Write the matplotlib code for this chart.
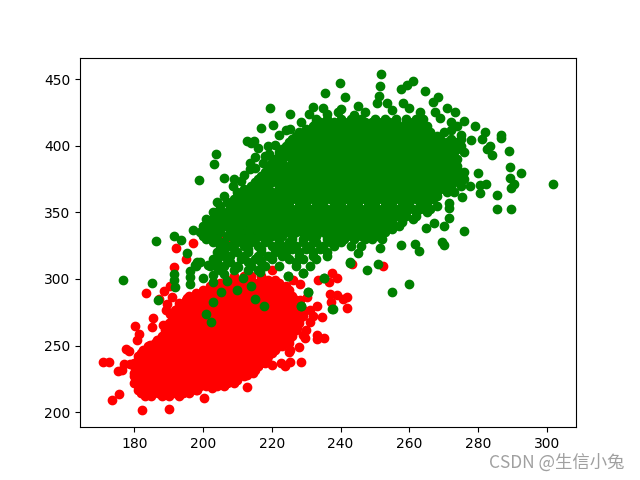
import matplotlib
matplotlib.use("Agg")
import matplotlib.pyplot as plt

# red class: dense core, read row by row (y level -> x values)
red_core_y = [212, 217, 222, 227, 232, 237, 242, 247, 252, 257, 262, 267, 272, 277, 282, 287, 292, 297, 302]
red_core_x = [
    [183, 185, 188, 190, 193],
    [181, 183, 186, 188, 191, 193, 196, 198],
    [180, 182, 185, 187, 190, 192, 195, 197, 200, 202, 205, 207, 209],
    [180, 183, 185, 188, 190, 193, 195, 198, 200, 203, 205, 208, 210, 212],
    [181, 183, 186, 188, 191, 193, 196, 198, 201, 203, 206, 208, 211, 213, 215],
    [180, 182, 185, 187, 190, 192, 195, 197, 200, 202, 205, 207, 210, 212, 215, 217, 218],
    [181, 184, 186, 189, 191, 194, 196, 199, 201, 204, 206, 209, 211, 214, 216, 219],
    [183, 185, 188, 190, 193, 195, 198, 200, 203, 205, 208, 210, 213, 215, 218, 220, 221],
    [186, 189, 191, 194, 196, 199, 201, 204, 206, 209, 211, 214, 216, 219, 221, 224, 225],
    [188, 190, 193, 195, 198, 200, 203, 205, 208, 210, 213, 215, 218, 220, 223, 225, 226],
    [189, 191, 194, 196, 199, 201, 204, 206, 209, 211, 214, 216, 219, 221, 224, 226, 227],
    [190, 192, 195, 197, 200, 202, 205, 207, 210, 212, 215, 217, 220, 222, 225, 227, 228],
    [191, 193, 196, 198, 201, 203, 206, 208, 211, 213, 216, 218, 221, 223, 226, 228, 229],
    [192, 194, 197, 199, 202, 204, 207, 209, 212, 214, 217, 219, 222, 224, 227, 229],
    [193, 195, 198, 200, 203, 205, 208, 210, 213, 215, 218, 220, 223, 225, 228],
    [196, 199, 201, 204, 206, 209, 211, 214, 216, 219, 221, 224, 226],
    [200, 202, 205, 207, 210, 212, 215, 217, 220, 222, 225],
    [205, 208, 210, 213, 215, 218, 220, 222],
    [209, 212, 214, 217],
]
red_fill_y = [214.5, 219.5, 224.5, 229.5, 234.5, 239.5, 244.5, 249.5, 254.5, 259.5, 264.5, 269.5, 274.5, 279.5, 284.5, 289.5, 294.5, 299.5]
red_fill_x = [
    [182, 184, 187, 189, 192, 194, 196],
    [181, 184, 186, 189, 191, 194, 196, 199, 201, 204, 206],
    [181, 184, 186, 189, 191, 194, 196, 199, 201, 204, 206, 209, 210],
    [180, 182, 184, 187, 189, 192, 194, 197, 199, 202, 204, 207, 209, 212, 213],
    [180, 182, 184, 187, 189, 192, 194, 197, 199, 202, 204, 207, 209, 212, 214, 216],
    [181, 183, 185, 188, 190, 193, 195, 198, 200, 203, 205, 208, 210, 213, 215, 218],
    [182, 183, 185, 187, 188, 190, 192, 195, 197, 200, 202, 205, 207, 210, 212, 215, 217, 220],
    [184, 187, 189, 192, 194, 197, 199, 202, 204, 207, 209, 212, 214, 217, 219, 222, 223],
    [187, 190, 192, 195, 197, 200, 202, 205, 207, 210, 212, 215, 217, 220, 222, 225],
    [189, 192, 194, 197, 199, 202, 204, 207, 209, 212, 214, 217, 219, 222, 224, 226],
    [190, 193, 195, 198, 200, 203, 205, 208, 210, 213, 215, 218, 220, 223, 225, 227],
    [191, 194, 196, 199, 201, 204, 206, 209, 211, 214, 216, 219, 221, 224, 226, 228],
    [192, 195, 197, 200, 202, 205, 207, 210, 212, 215, 217, 220, 222, 225, 227, 229],
    [193, 196, 198, 201, 203, 206, 208, 211, 213, 216, 218, 221, 223, 226, 228],
    [195, 197, 200, 202, 205, 207, 210, 212, 215, 217, 220, 222, 225, 227],
    [198, 200, 203, 205, 208, 210, 213, 215, 218, 220, 223, 225],
    [202, 204, 207, 209, 212, 214, 217, 219, 222, 224],
    [207, 209, 212, 214, 217, 219, 221],
]
# red class: separately visible points
red_x = [170.8, 172.8, 173.5, 175.5, 175.2, 176.6, 176.9, 178.8, 177.6, 178.6, 180.1, 181.3, 180.8,
         182.4, 190.0, 183.4, 185.5, 185.1, 187.1, 188.7, 190.5, 192.1, 197.2, 191.5, 195.1, 191.0,
         189.5, 189.3, 212.8, 200.2, 202.6, 220.2, 237.5, 238.9, 233.3, 236.5, 237.0, 239.1, 241.8,
         240.8, 237.2, 241.8, 233.1, 234.6, 231.2, 229.7, 233.1, 233.1, 235.3, 228.0, 224.9, 225.4,
         228.5, 225.4, 222.7, 223.9, 220.2, 216.1, 214.5, 212.8, 228.3, 230.2, 228.3, 226.3,
         243.4, 252.3, 204.5, 207.5, 212.0, 215.5,
         182.7, 184.6, 186.6, 188.5, 190.5, 193.4, 195.3, 194.3, 198.2, 206.9, 209.8, 218.6, 221.5,
         224.4, 227.3, 231.0, 232.0, 230.0, 229.0]
red_y = [237.6, 237.4, 209.0, 214.0, 230.6, 231.6, 236.0, 236.0, 247.6, 246.0, 264.6, 259.0, 254.0,
         201.4, 202.8, 289.6, 270.6, 263.8, 285.0, 291.0, 295.0, 323.6, 327.0, 309.0, 315.0, 286.6,
         281.6, 276.6, 219.0, 211.0, 218.0, 307.0, 304.6, 300.8, 299.6, 297.8, 289.0, 288.0, 286.6,
         284.8, 282.4, 278.4, 279.6, 271.6, 276.6, 255.4, 257.9, 254.6, 255.8, 249.0, 245.3, 247.0,
         238.0, 237.4, 237.1, 234.6, 235.8, 234.6, 229.1, 227.9, 284.0, 286.6, 296.6, 299.1,
         311.5, 310.0, 331.0, 326.0, 337.0, 335.0,
         246.6, 250.3, 254.0, 265.4, 274.0, 280.4, 285.4, 214.8, 216.6, 221.6, 226.6, 240.3, 250.3,
         256.6, 262.9, 268.0, 272.0, 262.0, 258.0]

# green class: dense core, read row by row
green_core_y = [420, 415, 410, 405, 400, 395, 390, 385, 380, 375, 370, 365, 360, 355, 350, 345, 340, 335, 330, 325, 320, 315, 310]
green_core_x = [
    [233, 236, 240, 243, 246, 250, 253, 256, 259, 262, 264],
    [232, 235, 237, 240, 242, 245, 247, 250, 252, 255, 257, 260, 262, 265],
    [228, 231, 233, 236, 238, 241, 243, 246, 248, 251, 253, 256, 258, 261, 263, 266, 270],
    [226, 229, 231, 234, 236, 239, 241, 244, 246, 249, 251, 254, 256, 259, 261, 264, 266, 269, 272, 275],
    [224, 227, 230, 232, 235, 237, 240, 242, 245, 247, 250, 252, 255, 257, 260, 262, 265, 267, 270, 272, 275],
    [222, 225, 228, 230, 233, 235, 238, 240, 243, 245, 248, 250, 253, 255, 258, 260, 263, 265, 268, 270, 273, 276],
    [221, 223, 226, 229, 231, 234, 236, 239, 241, 244, 246, 249, 251, 254, 256, 259, 261, 264, 266, 269, 271, 274],
    [220, 222, 225, 227, 230, 232, 235, 237, 240, 242, 245, 247, 250, 252, 255, 257, 260, 262, 265, 267, 270, 272, 274],
    [218, 220, 223, 226, 228, 231, 233, 236, 238, 241, 243, 246, 248, 251, 253, 256, 258, 261, 263, 266, 268, 271, 273, 276],
    [216, 218, 221, 224, 226, 229, 231, 234, 236, 239, 241, 244, 246, 249, 251, 254, 256, 259, 261, 264, 266, 269, 271, 274, 276],
    [214, 217, 219, 222, 225, 227, 230, 232, 235, 237, 240, 242, 245, 247, 250, 252, 255, 257, 260, 262, 265, 267, 270, 272, 275],
    [210, 213, 215, 218, 220, 223, 226, 228, 231, 233, 236, 238, 241, 243, 246, 248, 251, 253, 256, 258, 261, 263, 266, 268, 271, 273],
    [209, 211, 214, 216, 219, 221, 224, 227, 229, 232, 234, 237, 239, 242, 244, 247, 249, 252, 254, 257, 259, 262, 264, 267],
    [205, 208, 210, 213, 215, 218, 220, 223, 225, 228, 230, 233, 235, 238, 240, 243, 245, 248, 250, 253, 255, 258, 260, 263, 265, 268],
    [204, 207, 209, 212, 214, 217, 219, 222, 224, 227, 229, 232, 234, 237, 239, 242, 244, 247, 249, 252, 254, 257, 259, 262, 265],
    [203, 205, 208, 210, 213, 215, 218, 220, 223, 225, 228, 230, 233, 235, 238, 240, 243, 245, 248, 250, 253, 255, 258, 261],
    [201, 204, 206, 209, 211, 214, 216, 219, 221, 224, 226, 229, 231, 234, 236, 239, 241, 244, 246, 249, 251, 254, 257],
    [199, 202, 205, 208, 211, 213, 216, 218, 221, 224, 227, 229, 232, 235, 237, 240, 242, 245, 247, 250, 253],
    [201, 204, 209, 212, 215, 219, 222, 226, 229, 232, 236, 239, 241, 244, 247, 249, 252],
    [205, 208, 212, 216, 220, 224, 227, 231, 235, 238, 243, 246],
    [204, 206, 210, 213, 217, 221, 224, 228, 232, 236],
    [203, 207, 211, 215, 220, 225, 229, 233],
    [198, 202, 206, 210, 214, 218, 222, 227, 231],
]
green_fill_y = [417.5, 412.5, 407.5, 402.5, 397.5, 392.5, 387.5, 382.5, 377.5, 372.5, 367.5, 362.5, 357.5, 352.5, 347.5, 342.5, 337.5, 332.5,
                327.5, 322.5, 317.5, 312.5, 307.0]
green_fill_x = [
    [234, 238, 241, 244, 247, 249, 251, 254, 256, 259, 261, 263],
    [230, 232, 234, 237, 239, 242, 244, 247, 249, 252, 254, 257, 259, 262, 264],
    [227, 230, 232, 235, 237, 240, 242, 245, 247, 250, 252, 255, 257, 260, 262, 265, 268],
    [225, 228, 231, 233, 236, 238, 241, 243, 246, 248, 251, 253, 256, 258, 261, 263, 266, 268, 271, 274],
    [223, 226, 229, 231, 234, 236, 239, 241, 244, 246, 249, 251, 254, 256, 259, 261, 264, 266, 269, 271, 274],
    [222, 224, 227, 229, 232, 234, 237, 239, 242, 244, 247, 249, 252, 254, 257, 259, 262, 264, 267, 269, 272],
    [220, 223, 226, 228, 231, 233, 236, 238, 241, 243, 246, 248, 251, 253, 256, 258, 261, 263, 266, 268, 271, 273],
    [219, 221, 224, 227, 229, 232, 234, 237, 239, 242, 244, 247, 249, 252, 254, 257, 259, 262, 264, 267, 269, 272, 274],
    [217, 219, 222, 225, 227, 230, 232, 235, 237, 240, 242, 245, 247, 250, 252, 255, 257, 260, 262, 265, 267, 270, 272, 275],
    [215, 218, 220, 223, 226, 228, 231, 233, 236, 238, 241, 243, 246, 248, 251, 253, 256, 258, 261, 263, 266, 268, 271, 273],
    [212, 214, 216, 219, 222, 224, 227, 229, 232, 234, 237, 239, 242, 244, 247, 249, 252, 254, 257, 259, 262, 264, 267, 269, 272],
    [210, 212, 215, 217, 220, 222, 225, 228, 230, 233, 235, 238, 240, 243, 245, 248, 250, 253, 255, 258, 260, 263, 265, 268],
    [207, 210, 212, 215, 217, 220, 222, 225, 228, 230, 233, 235, 238, 240, 243, 245, 248, 250, 253, 255, 258, 260, 263, 265],
    [205, 208, 211, 213, 216, 218, 221, 223, 226, 228, 231, 233, 236, 238, 241, 243, 246, 248, 251, 253, 256, 258, 261, 263, 266],
    [204, 206, 209, 211, 214, 216, 219, 221, 224, 226, 229, 231, 234, 236, 239, 241, 244, 246, 249, 251, 254, 256, 259, 262],
    [202, 204, 207, 209, 212, 214, 217, 219, 222, 224, 227, 229, 232, 234, 237, 239, 242, 244, 247, 249, 252, 255, 258],
    [200, 203, 205, 208, 210, 213, 215, 218, 220, 223, 225, 228, 230, 233, 235, 238, 240, 243, 245, 248, 250, 252, 255],
    [200, 203, 207, 210, 214, 217, 220, 223, 226, 230, 233, 236, 238, 241, 243, 246, 249, 251],
    [203, 206, 210, 214, 218, 222, 225, 229, 233, 237, 240],
    [206, 209, 213, 217, 222, 226, 230, 234],
    [205, 208, 212, 216, 219, 223, 228, 232, 236],
    [199, 204, 208, 213, 217, 227],
    [205, 209, 213, 216],
]
# green class: separately visible points
green_x = [251.8, 251.5, 261.2, 259.3, 257.5, 239.7, 235.5, 241.4, 251.2, 264.6, 268.2, 267.0, 219.5,
           245.2, 250.6, 253.5, 232.0, 235.0, 225.3, 230.8, 236.2, 240.2, 239.4, 258.3, 270.9, 273.3,
           267.5, 275.8, 228.5, 220.4, 216.9, 225.2, 232.6, 279.1, 282.0, 281.1, 286.7, 286.7, 212.8,
           214.0, 214.7, 220.8, 283.5, 282.7, 284.1, 289.0, 219.1, 203.8, 203.2, 215.2, 213.7, 217.4,
           213.7, 289.3, 292.5, 280.1, 289.3, 290.3, 289.6, 282.2, 280.4, 280.4, 301.9, 285.4, 285.4,
           289.7, 206.0, 198.7, 208.7, 211.0, 275.3, 277.7, 275.8, 271.4, 271.4, 271.4, 270.2, 267.3,
           264.7, 269.5, 270.2, 261.7, 262.8, 257.5, 251.5, 245.2, 242.8, 251.0, 247.6, 259.8, 254.9,
           235.2, 230.4, 229.2, 224.7, 228.6, 237.7,
           176.7, 185.3, 186.8, 186.2, 191.7, 193.6, 195.3, 191.7, 191.7, 191.9, 196.1, 196.1, 196.3,
           198.4, 197.7, 200.0, 202.9, 205.2, 203.0, 201.0, 202.2, 207.1, 209.8, 211.5, 214.0, 215.0,
           217.8, 224.6, 229.2, 230.4, 228.5, 235.3, 237.6, 242.8, 216.6, 216.6, 203.1, 201.6, 204.0,
           203.0, 206.0, 210.3,
           263.0, 260.0, 255.0, 247.0, 244.0, 269.0, 272.0, 274.0, 272.0, 275.0, 278.0,
           222.0, 224.0, 219.0, 216.0, 218.0, 215.0, 212.0, 209.0, 206.0, 204.0, 201.0, 203.0, 200.0, 197.0]
green_y = [453.5, 445.0, 448.5, 445.5, 442.3, 447.3, 439.3, 436.8, 437.3, 441.0, 436.3, 433.0, 428.5,
           429.8, 431.8, 432.3, 428.8, 428.5, 424.0, 423.8, 423.8, 427.3, 425.0, 431.8, 428.0, 425.5,
           425.5, 418.8, 417.5, 415.8, 413.5, 412.5, 416.0, 414.5, 410.0, 405.0, 408.3, 405.5, 403.5,
           401.8, 403.8, 400.3, 399.8, 397.3, 393.3, 396.0, 393.5, 393.5, 386.3, 391.3, 386.8, 387.3,
           382.3, 383.8, 379.5, 379.8, 375.5, 371.3, 368.3, 371.3, 370.5, 364.3, 371.5, 362.8, 352.5,
           352.5, 375.8, 374.3, 370.0, 373.3, 361.8, 370.0, 336.3, 345.5, 356.8, 353.0, 340.0, 341.8,
           338.5, 327.5, 325.3, 326.0, 320.8, 325.5, 323.5, 319.8, 312.5, 311.0, 306.8, 296.0, 290.3,
           301.0, 290.5, 304.3, 302.5, 280.0, 277.3,
           299.4, 296.9, 283.9, 328.4, 332.4, 329.6, 319.6, 304.0, 299.0, 294.0, 306.0, 301.6, 296.6,
           312.9, 310.4, 300.6, 297.9, 290.1, 282.6, 274.1, 267.4, 298.4, 292.1, 301.1, 294.4, 284.9,
           280.1, 302.4, 304.4, 290.1, 280.1, 300.8, 277.4, 312.1, 305.4, 314.0, 314.0, 310.4, 309.0,
           302.8, 304.0, 309.0,
           425.0, 428.0, 427.0, 425.0, 423.0, 421.0, 418.0, 415.0, 412.0, 408.0, 404.0,
           408.0, 412.0, 400.0, 398.0, 392.0, 383.0, 378.0, 375.0, 362.0, 358.0, 345.0, 350.0, 340.0, 337.0]


def flatten(rows_y, rows_x):
    xs, ys = [], []
    for level, row in zip(rows_y, rows_x):
        xs.extend(row)
        ys.extend([level] * len(row))
    return xs, ys


rx, ry = flatten(red_core_y + red_fill_y, red_core_x + red_fill_x)
gx, gy = flatten(green_core_y + green_fill_y, green_core_x + green_fill_x)

fig, ax = plt.subplots(figsize=(6.4, 4.8), dpi=100)
ax.scatter(rx + red_x, ry + red_y, c="red")
ax.scatter(gx + green_x, gy + green_y, c="green")
fig.text(0.976, 0.037, "CSDN @生信小兔", ha="right", va="center", fontsize=12.5,
         color="#a0a0a0", family=["Noto Sans CJK SC", "DejaVu Sans"])
fig.savefig("out.png", dpi=100)
